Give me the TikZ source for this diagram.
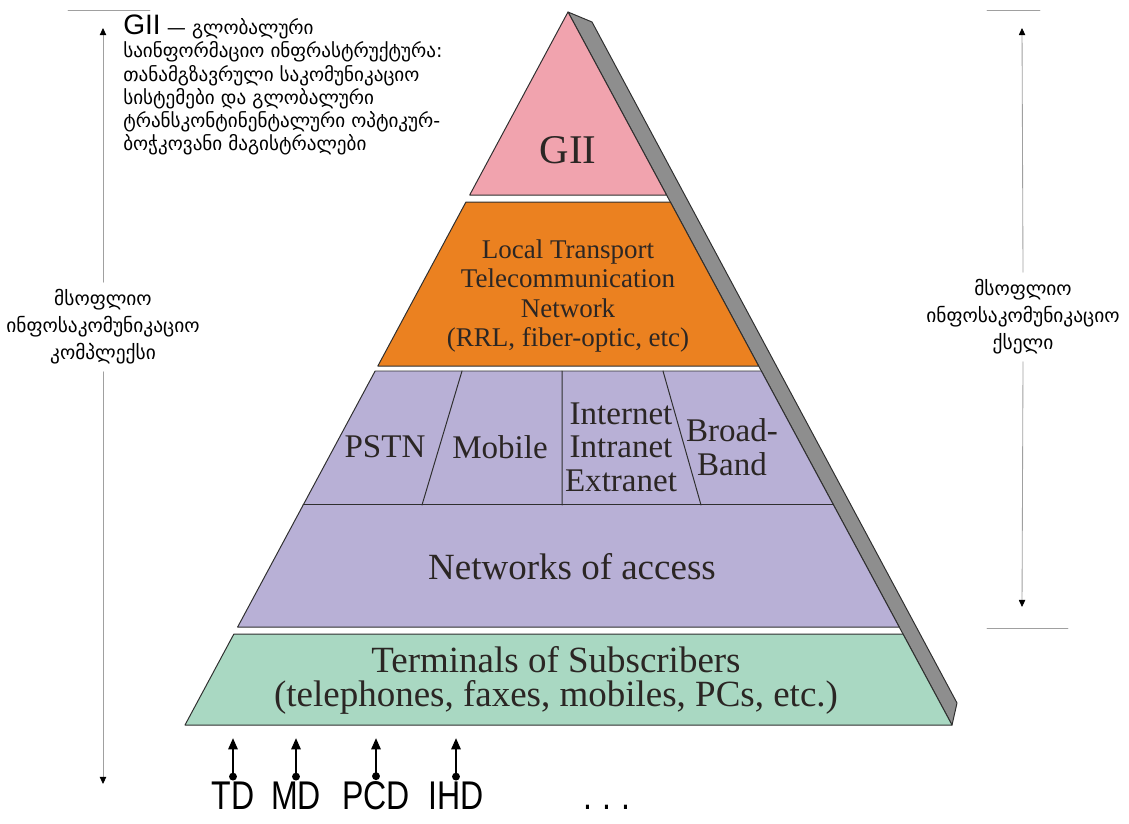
\documentclass[tikz,border=0pt]{standalone}
\usepackage{fontspec}
\setmainfont{Liberation Serif}
\newfontfamily\geofont{DejaVu Sans}
\newfontfamily\giifont{Liberation Sans}
\newfontfamily\devfont[FakeStretch=0.8]{Liberation Sans}
\usetikzlibrary{calc,arrows.meta,positioning}
\definecolor{LayerPink}{HTML}{F1A3AE}
\definecolor{LayerOrange}{HTML}{EB8120}
\definecolor{LayerPurple}{HTML}{B8B0D6}
\definecolor{LayerGreen}{HTML}{A9D8C2}
\definecolor{ShadowGray}{HTML}{8E8E8E}
\definecolor{EdgeDark}{HTML}{2F2F2F}
\definecolor{TextDark}{HTML}{2B2624}
\definecolor{DimGray}{HTML}{A0A0A0}

\begin{document}
\begin{tikzpicture}[x=0.025cm,y=-0.025cm,line cap=round,line join=round,
  layer/.style={draw=EdgeDark,line width=0.7pt},
  lbl/.style={text=TextDark,align=center,inner sep=0pt},
  geo/.style={font=\geofont\fontsize{13.8}{19.2}\selectfont,align=center,inner xsep=2pt,inner ysep=5pt},
  dim/.style={DimGray,line width=0.6pt},
  dimtip/.style={-{Triangle[length=5pt,width=4.5pt,color=black]}},
  dev/.style={{Circle[length=5.5pt]}-{Triangle[length=8pt,width=6.5pt]},line width=1.6pt},
  devlbl/.style={font=\devfont\fontsize{28.5}{28.5}\selectfont,anchor=base,inner sep=0.5pt}]

  \useasboundingbox (0,0) rectangle (1129,823);

  \coordinate (apex) at (568,12);
  \coordinate (bl) at (185,725);
  \coordinate (br) at (952,725);
  \foreach \n/\f in {a/.2567,b/.2665,c/.4965,d/.5035,e/.6914,f/.8626,g/.8724}{
    \coordinate (L\n) at ($(apex)!\f!(bl)$);
    \coordinate (R\n) at ($(apex)!\f!(br)$);
  }

  \draw[layer,fill=ShadowGray] (apex)--(592,22)--(957,703)--(br)--cycle;
  \draw[layer,fill=LayerPink] (apex)--(La)--(Ra)--cycle;
  \draw[layer,fill=LayerOrange] (Lb)--(Lc)--(Rc)--(Rb)--cycle;
  \draw[layer,fill=LayerPurple] (Ld)--(Lf)--(Rf)--(Rd)--cycle;
  \draw[layer] (Le)--(Re);
  \draw[layer,fill=LayerGreen] (Lg)--(bl)--(br)--(Rg)--cycle;
  \draw[layer] (462,371)--(422,505) (562,371)--(562,505) (663,371)--(701,505);

  \node[lbl,font=\fontsize{29}{29}\selectfont] (gii) at (568,150) {GII};
  \node[lbl,font=\fontsize{19.2}{21}\selectfont] (transport) at (568,296)
    {Local Transport\\Telecommunication\\Network\\(RRL, fiber-optic, etc)};
  \node[lbl,font=\fontsize{23.5}{23.8}\selectfont] (pstn) at (385,447) {PSTN};
  \node[lbl,font=\fontsize{23.5}{23.8}\selectfont] (mobile) at (500,447) {Mobile};
  \node[lbl,font=\fontsize{23.5}{23.8}\selectfont] (internet) at (621,447) {Internet\\Intranet\\Extranet};
  \node[lbl,font=\fontsize{23.5}{23.8}\selectfont] (broadband) at (732,447) {Broad-\\Band};
  \node[lbl,font=\fontsize{26.3}{26.3}\selectfont] (access) at (572,567) {Networks of access};
  \node[lbl,font=\fontsize{26.3}{24.2}\selectfont] (terminals) at (556,680)
    {Terminals of Subscribers\\(telephones, faxes, mobiles, PCs, etc.)};

  \node[geo,align=left,anchor=north west,inner sep=0pt,font=\geofont\fontsize{13.6}{16.4}\selectfont] (giinote) at (123,15)
    {{\giifont\fontsize{20}{20}\selectfont GII} — გლობალური\\საინფორმაციო ინფრასტრუქტურა:\\თანამგზავრული საკომუნიკაციო\\სისტემები და გლობალური\\ტრანსკონტინენტალური ოპტიკურ-\\ბოჭკოვანი მაგისტრალები};

  \node[geo] (complex) at (103,327) {მსოფლიო\\ინფოსაკომუნიკაციო\\კომპლექსი};
  \node[geo] (network) at (1023,317) {მსოფლიო\\ინფოსაკომუნიკაციო\\ქსელი};

  \coordinate (ltop) at (103,28);
  \coordinate (lbot) at (103,784);
  \coordinate (rtop) at (1022,28);
  \coordinate (rbot) at (1022,607);
  \draw[dim,dimtip] (complex.north) -- (ltop);
  \draw[dim,dimtip] (complex.south) -- (lbot);
  \draw[dim,dimtip] (network.north) -- (rtop);
  \draw[dim,dimtip] (network.south) -- (rbot);
  \draw[dim] (68,10) -- (150,10);
  \draw[dim] (987,10) -- (1040,10) (987,628) -- (1068,628);

  \foreach \n/\x/\lab in {td/233/TD,md/296/MD,pcd/376/PCD,ihd/456/IHD}{
    \node[devlbl] (\n) at (\x,809) {\lab};
    \coordinate (\n-tip) at (\x,738);
    \draw[dev] (\n.north) -- (\n-tip);
  }
  \node[devlbl] (more) at (607,809) {.\hspace{0.25em}.\hspace{0.25em}.};
\end{tikzpicture}
\end{document}
